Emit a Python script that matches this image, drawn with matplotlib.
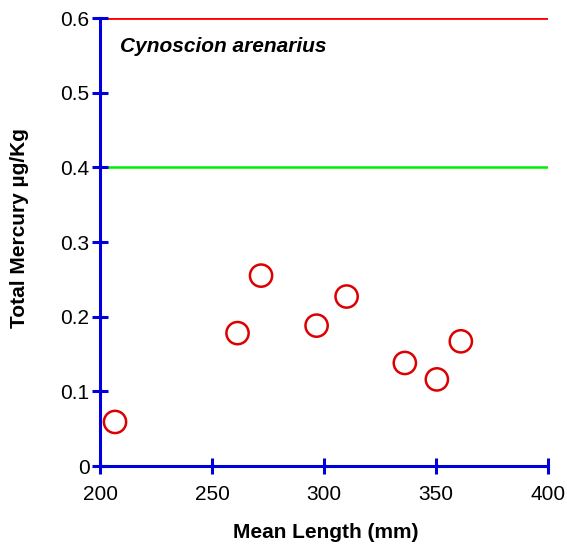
import matplotlib
matplotlib.use('Agg')
from matplotlib import pyplot as plt

# mean length (mm) vs total mercury (ug/Kg)
length = [206.7, 261.4, 271.9, 296.7, 310.1, 336.1, 350.4, 361.1]
mercury = [0.059, 0.178, 0.255, 0.188, 0.227, 0.138, 0.116, 0.167]
limit_high = 0.6
limit_low = 0.4

plt.rcParams['font.family'] = ['Liberation Sans', 'DejaVu Sans']

fig = plt.figure(figsize=(5.67, 5.46), dpi=100)
ax = fig.add_axes([0.1764, 0.1465, 0.79, 0.8205])

ax.axhline(limit_high, color='#ff0000', lw=2.0, zorder=1)
ax.axhline(limit_low, color='#00ee00', lw=1.8, zorder=1)
ax.scatter(length, mercury, s=16**2, facecolors='none', edgecolors='#dd0000',
           linewidths=1.8, zorder=3)

ax.set_xlim(200, 400)
ax.set_ylim(0, 0.6)
ax.set_xticks([200, 250, 300, 350, 400])
ax.set_yticks([0, 0.1, 0.2, 0.3, 0.4, 0.5, 0.6])
ax.set_yticklabels(['0', '0.1', '0.2', '0.3', '0.4', '0.5', '0.6'])

for s in ['top', 'right']:
    ax.spines[s].set_visible(False)
for s in ['left', 'bottom']:
    ax.spines[s].set_color('#0000dd')
    ax.spines[s].set_linewidth(2.2)
    ax.spines[s].set_zorder(4)
ax.tick_params(direction='inout', length=11, width=2.2, color='#0000dd',
               labelsize=15, pad=2)
ax.tick_params(axis='x', pad=8)

# axis titles placed in figure pixels like the original
fig.text(326 / 567, 1 - 533 / 546, 'Mean Length (mm)', fontsize=15,
         fontweight='bold', ha='center', va='center')
fig.text(20 / 567, 1 - 228 / 546, 'Total Mercury \u00b5g/Kg', fontsize=15,
         fontweight='bold', ha='center', va='center', rotation=90)
ax.text(0.045, 0.937, 'Cynoscion arenarius', transform=ax.transAxes,
        fontsize=15, fontweight='bold', fontstyle='italic', va='center')

plt.savefig('out.png', dpi=100)
